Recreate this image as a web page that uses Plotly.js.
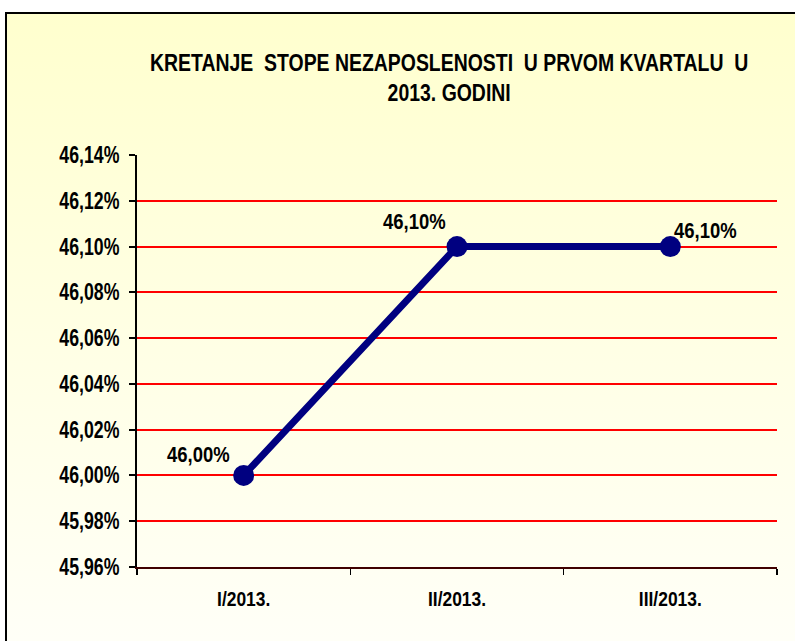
<!DOCTYPE html>
<html>
<head>
<meta charset="utf-8">
<script src="https://cdn.plot.ly/plotly-3.0.1.min.js"></script>
<style>
html,body{margin:0;padding:0;width:795px;height:641px;overflow:hidden;background:#fff;}
#frame{position:absolute;left:5px;top:12px;width:800px;height:640px;border:2px solid #000;
background:linear-gradient(to bottom,#FFFFCE 0%,#FFFFE4 50%,#FFFFF8 100%);}
#chart{position:absolute;left:0;top:0;width:795px;height:641px;}
</style>
</head>
<body>
<div id="frame"></div>
<div id="chart"></div>
<script>
const categories = ["I/2013.", "II/2013.", "III/2013."];
const values = [46.00, 46.10, 46.10];
const yTicks = [45.96, 45.98, 46.00, 46.02, 46.04, 46.06, 46.08, 46.10, 46.12, 46.14];

const FONT = '"Liberation Sans", Arial, sans-serif';
const fmt = v => v.toFixed(2).replace('.', ',') + '%';
const NB = '\u00a0';

// label placement style per point: [anchor side, xshift, yshift]
const labelStyle = [['right', -12, 21], ['right', -9, 25], ['left', 2, 16]];

const trace = {
  x: categories,
  y: values,
  type: 'scatter',
  mode: 'lines+markers',
  line: {color: '#000080', width: 7},
  marker: {color: '#000080', size: 21, symbol: 'circle'},
  cliponaxis: false,
  hoverinfo: 'skip'
};

const annotations = categories.map((c, i) => ({
  x: c, y: values[i], xref: 'x', yref: 'y',
  text: '<b>' + fmt(values[i]) + '</b>',
  showarrow: false,
  xanchor: labelStyle[i][0], yanchor: 'middle',
  xshift: labelStyle[i][1], yshift: labelStyle[i][2],
  font: {family: FONT, size: 22, color: '#000'}
}));

const layout = {
  width: 795, height: 641,
  paper_bgcolor: 'rgba(0,0,0,0)',
  plot_bgcolor: 'rgba(0,0,0,0)',
  margin: {l: 137, r: 18, t: 155, b: 74},
  showlegend: false,
  separators: ',.',
  font: {family: FONT, color: '#000'},
  annotations: annotations,
  title: {
    text: '<b>KRETANJE ' + NB + 'STOPE NEZAPOSLENOSTI ' + NB + 'U PRVOM KVARTALU ' + NB + 'U<br>2013. GODINI</b>',
    font: {family: FONT, size: 23, color: '#000'},
    x: 0.565, xanchor: 'center', y: 0.889, yanchor: 'middle'
  },
  xaxis: {
    type: 'category',
    range: [-0.5, 2.5],
    showgrid: false,
    showline: true, linecolor: '#400000', linewidth: 2,
    ticks: 'outside', ticklen: 6, tickcolor: '#000', tickwidth: 1.5,
    tickson: 'boundaries',
    ticklabelstandoff: 12,
    tickfont: {family: FONT, size: 21, color: '#000', weight: 'bold'},
    zeroline: false
  },
  yaxis: {
    range: [45.96, 46.14],
    tickvals: yTicks,
    ticktext: yTicks.map(fmt),
    showgrid: true, gridcolor: '#FF0000', gridwidth: 2,
    showline: true, linecolor: '#000', linewidth: 2,
    ticks: 'outside', ticklen: 6, tickcolor: '#000', tickwidth: 2,
    ticklabelstandoff: 5,
    tickfont: {family: FONT, size: 23, color: '#000', weight: 'bold'},
    zeroline: false
  }
};

// Horizontally condense rendered text (the original uses a narrow typeface)
function condenseEl(el, s, mode) {
  const bb = el.getBBox();
  const m = mode || el.getAttribute('text-anchor') || 'start';
  const ax = m === 'middle' ? bb.x + bb.width / 2
           : (m === 'end' || m === 'right') ? bb.x + bb.width : bb.x;
  const t = el.getAttribute('transform') || '';
  el.setAttribute('transform', t + ' translate(' + ax + ',0) scale(' + s + ',1) translate(' + (-ax) + ',0)');
}
function condense(sel, s) {
  document.querySelectorAll(sel).forEach(el => condenseEl(el, s));
}

Plotly.newPlot('chart', [trace], layout, {staticPlot: true}).then(() => {
  condense('#chart .gtitle', 0.845);
  condense('#chart .xtick text', 0.83);
  condense('#chart .ytick text', 0.77);
  document.querySelectorAll('#chart .annotation-text').forEach((el, i) => {
    condenseEl(el, 0.84, labelStyle[i][0]);
  });
});
</script>
</body>
</html>
